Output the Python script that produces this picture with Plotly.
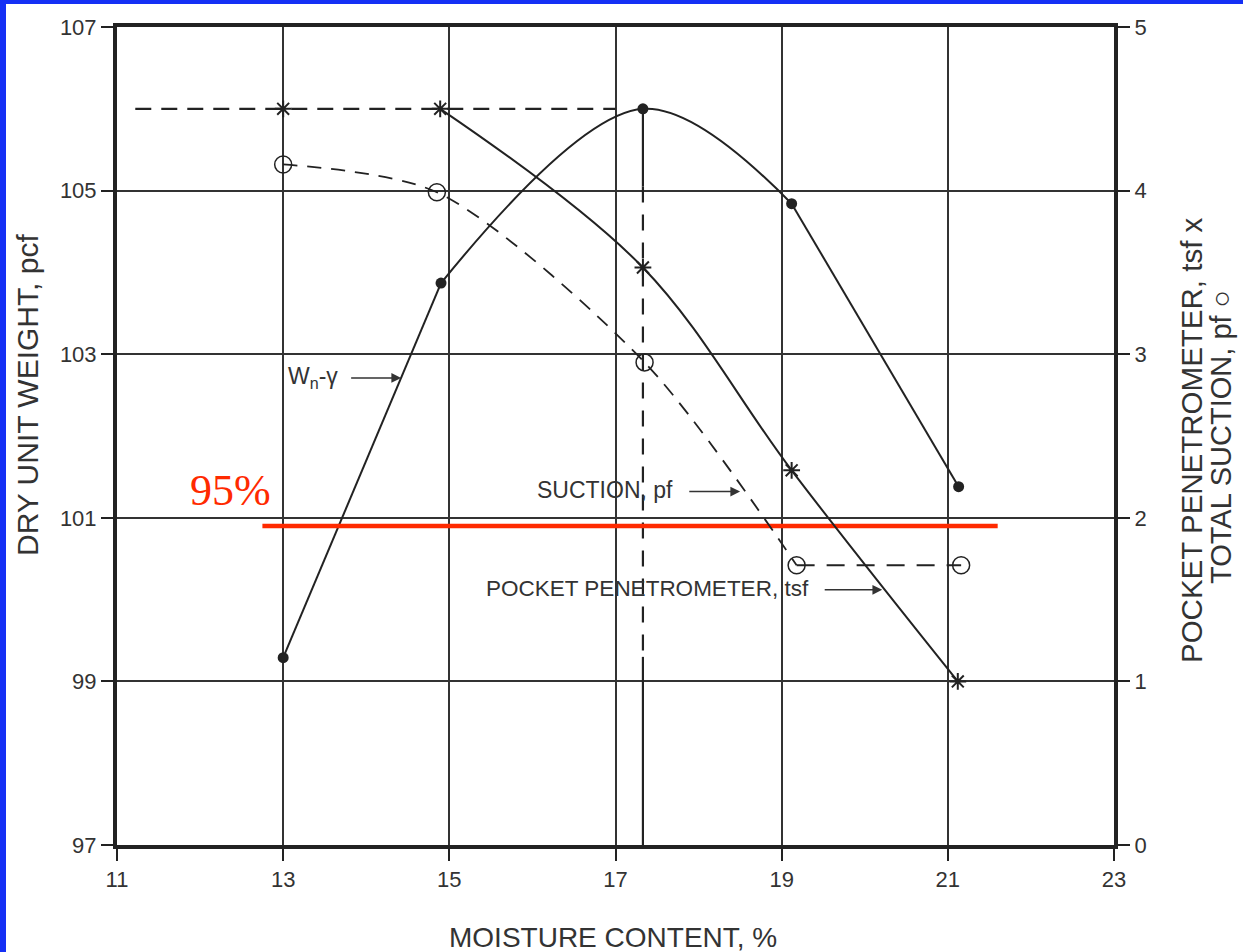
import plotly.graph_objects as go

# ---- data ----
moisture = [13.0, 14.9, 17.33, 19.12, 21.13]
dry_unit_weight = [99.29, 103.87, 106.0, 104.84, 101.38]          # Wn-gamma, pcf (left axis)
pen_moisture = [13.0, 14.89, 17.33, 19.12, 21.12]
pocket_pen = [4.5, 4.5, 3.53, 2.29, 1.0]                           # tsf (right axis)
suction_moisture = [13.0, 14.85, 17.35, 19.18, 21.16]
total_suction = [4.16, 3.99, 2.95, 1.71, 1.71]                     # pf (right axis)

max_line_x = [11.22, 17.0]        # horizontal dashed line at max dry unit weight
max_line_y = [106.0, 106.0]
opt_x = [17.33, 17.33]            # vertical line at optimum moisture
opt_top = [106.0, 105.05]
opt_mid = [105.05, 99.3]
opt_bot = [99.3, 97.0]

red_x = [12.75, 21.6]             # 95% line
red_y = [100.9, 100.9]

x_ticks = [11, 13, 15, 17, 19, 21, 23]
y_ticks = [97, 99, 101, 103, 105, 107]
y2_ticks = [0, 1, 2, 3, 4, 5]

INK = "#222222"
FONT = "Liberation Sans, Arial, Helvetica, sans-serif"

fig = go.Figure()

# reference lines
fig.add_trace(go.Scatter(x=max_line_x, y=max_line_y, mode="lines",
                         line=dict(color=INK, width=2.2, dash="16px,10px"), showlegend=False))
fig.add_trace(go.Scatter(x=opt_x, y=opt_top, mode="lines",
                         line=dict(color=INK, width=2.2), showlegend=False))
fig.add_trace(go.Scatter(x=opt_x, y=opt_mid, mode="lines",
                         line=dict(color=INK, width=2.2, dash="16px,12px"), showlegend=False))
fig.add_trace(go.Scatter(x=opt_x, y=opt_bot, mode="lines",
                         line=dict(color=INK, width=2.2), showlegend=False))

# compaction curve: straight end segments, smooth crest
fig.add_trace(go.Scatter(x=moisture[:2], y=dry_unit_weight[:2], mode="lines",
                         line=dict(color=INK, width=2), showlegend=False))
fig.add_trace(go.Scatter(x=moisture[1:4], y=dry_unit_weight[1:4], mode="lines",
                         line=dict(color=INK, width=2, shape="spline", smoothing=1.0),
                         showlegend=False))
fig.add_trace(go.Scatter(x=moisture[3:], y=dry_unit_weight[3:], mode="lines",
                         line=dict(color=INK, width=2), showlegend=False))
fig.add_trace(go.Scatter(x=moisture, y=dry_unit_weight, mode="markers",
                         marker=dict(symbol="circle", size=11, color=INK),
                         showlegend=False))

# total suction (dashed, open circles)
fig.add_trace(go.Scatter(x=suction_moisture[:4], y=total_suction[:4], yaxis="y2", mode="lines",
                         line=dict(color=INK, width=1.8, dash="14px,10px", shape="spline", smoothing=0.8),
                         showlegend=False))
fig.add_trace(go.Scatter(x=suction_moisture[3:], y=total_suction[3:], yaxis="y2", mode="lines",
                         line=dict(color=INK, width=2, dash="18px,12px"),
                         showlegend=False))
fig.add_trace(go.Scatter(x=suction_moisture, y=total_suction, yaxis="y2", mode="markers",
                         marker=dict(symbol="circle-open", size=17, color=INK, line=dict(width=1.5)),
                         showlegend=False))

# pocket penetrometer
fig.add_trace(go.Scatter(x=pen_moisture[1:], y=pocket_pen[1:], yaxis="y2", mode="lines",
                         line=dict(color=INK, width=2, shape="spline", smoothing=1.0),
                         showlegend=False))
fig.add_trace(go.Scatter(x=pen_moisture, y=pocket_pen, yaxis="y2", mode="markers",
                         marker=dict(symbol="asterisk-open", size=14, color=INK, line=dict(width=2, color=INK)),
                         showlegend=False))

# 95% red line
fig.add_trace(go.Scatter(x=red_x, y=red_y, mode="lines",
                         line=dict(color="#FF2A00", width=4.5), showlegend=False))

L, R, T, B = 117, 129, 27, 107
W, H = 1243, 952
pw, ph = W - L - R, H - T - B


def px(xp):
    return (xp - L) / pw


def py(yp):
    return (H - B - yp) / ph


shapes = [
    dict(type="rect", xref="paper", yref="paper", x0=px(0), x1=px(6), y0=py(H), y1=py(0),
         fillcolor="#1530F5", line=dict(width=0), layer="below"),
    dict(type="rect", xref="paper", yref="paper", x0=px(0), x1=px(W), y0=py(4), y1=py(0),
         fillcolor="#1530F5", line=dict(width=0), layer="below"),
]

annotations = [
    dict(x=13.04, y=102.71, xref="x", yref="y", text="W<sub>n</sub>-γ", showarrow=False,
         xanchor="left", yanchor="middle", font=dict(size=23, color="#333")),
    dict(x=14.42, y=102.71, ax=13.8, ay=102.71, xref="x", yref="y", axref="x", ayref="y",
         text="", showarrow=True, arrowhead=2, arrowsize=1.3, arrowwidth=1.5, arrowcolor="#333"),
    dict(x=16.87, y=101.34, xref="x", yref="y", text="SUCTION, pf", showarrow=False,
         xanchor="center", yanchor="middle", font=dict(size=23, color="#333")),
    dict(x=18.5, y=101.32, ax=17.87, ay=101.32, xref="x", yref="y", axref="x", ayref="y",
         text="", showarrow=True, arrowhead=2, arrowsize=1.3, arrowwidth=1.5, arrowcolor="#333"),
    dict(x=17.39, y=100.14, xref="x", yref="y", text="POCKET PENETROMETER, tsf", showarrow=False,
         xanchor="center", yanchor="middle", font=dict(size=22.5, color="#333")),
    dict(x=20.21, y=100.12, ax=19.5, ay=100.12, xref="x", yref="y", axref="x", ayref="y",
         text="", showarrow=True, arrowhead=2, arrowsize=1.3, arrowwidth=1.5, arrowcolor="#333"),
    dict(x=px(230), y=py(490), xref="paper", yref="paper", text="95%", showarrow=False,
         xanchor="center", yanchor="middle",
         font=dict(size=44, color="#FF2A00", family="Liberation Serif, Times New Roman, serif")),
    dict(x=px(28), y=py(395), xref="paper", yref="paper", text="DRY UNIT WEIGHT, pcf",
         showarrow=False, textangle=-90, xanchor="center", yanchor="middle",
         font=dict(size=30, color="#333")),
    dict(x=px(613), y=py(937), xref="paper", yref="paper", text="MOISTURE CONTENT, %",
         showarrow=False, xanchor="center", yanchor="middle", font=dict(size=28, color="#333")),
    dict(x=px(1191), y=py(440), xref="paper", yref="paper",
         text="POCKET PENETROMETER, tsf x",
         showarrow=False, textangle=-90, xanchor="center", yanchor="middle",
         font=dict(size=29.5, color="#333")),
    dict(x=px(1221), y=py(437), xref="paper", yref="paper",
         text="TOTAL SUCTION, pf ○",
         showarrow=False, textangle=-90, xanchor="center", yanchor="middle",
         font=dict(size=29, color="#333")),
]

axis_common = dict(showline=True, linewidth=4, linecolor=INK, ticks="outside", ticklen=12,
                   tickwidth=1.5, tickcolor=INK, zeroline=False,
                   tickfont=dict(size=22, color="#333"))

fig.update_layout(
    width=W, height=H,
    margin=dict(l=L, r=R, t=T, b=B, pad=0),
    paper_bgcolor="white", plot_bgcolor="white",
    font=dict(family=FONT, color="#333"),
    showlegend=False,
    xaxis=dict(range=[11, 23], tickvals=x_ticks, showgrid=True, gridcolor="#333", gridwidth=1.5,
               mirror=True, **axis_common),
    yaxis=dict(range=[97, 107], tickvals=y_ticks, showgrid=True, gridcolor="#333", gridwidth=1.5,
               mirror=False, **axis_common),
    yaxis2=dict(range=[0, 5], tickvals=y2_ticks, overlaying="y", side="right", showgrid=False,
                **axis_common),
    shapes=shapes,
    annotations=annotations,
)

fig.write_html("out.html", config={"displayModeBar": False},
               post_script="document.body.style.margin='0';document.body.style.overflow='hidden';")
